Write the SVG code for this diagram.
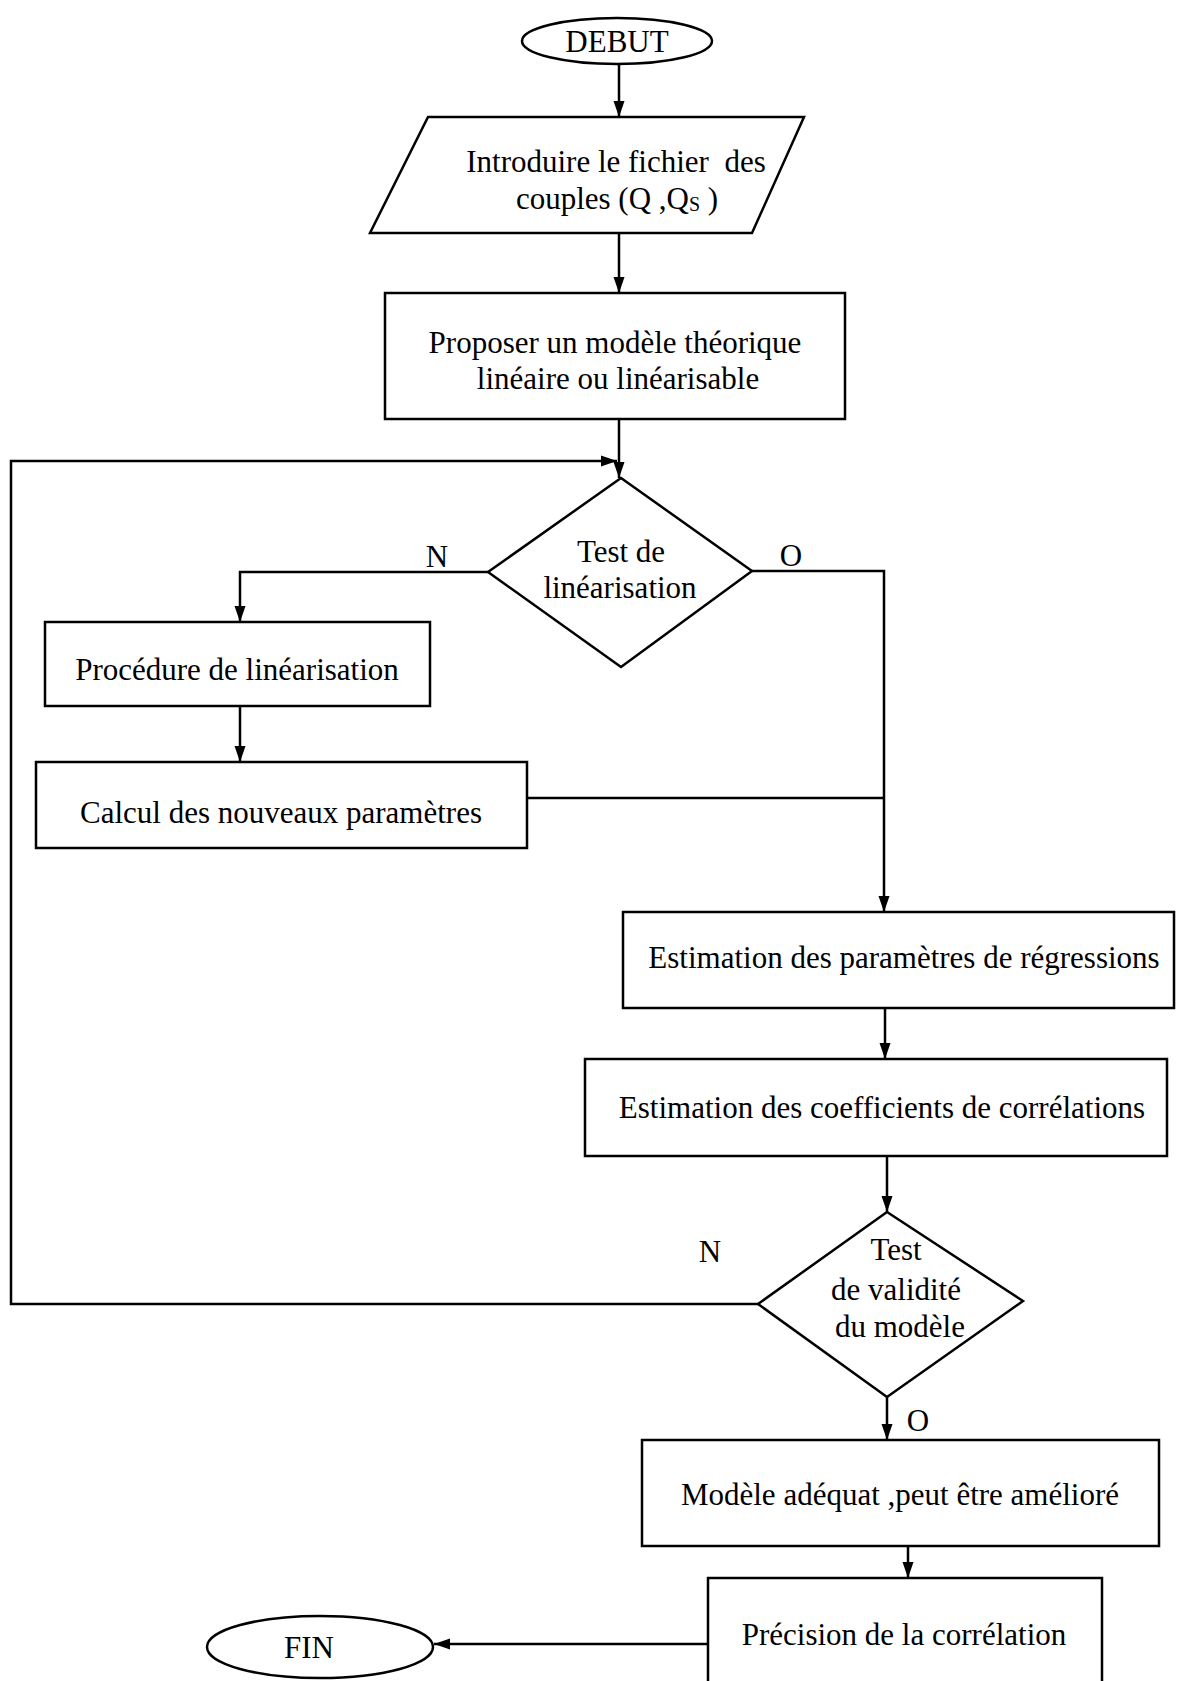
<svg xmlns="http://www.w3.org/2000/svg" width="1177" height="1681" viewBox="0 0 1177 1681">
  <style>
    .shape { fill: #ffffff; stroke: #000000; stroke-width: 2.5; }
    .edge { fill: none; stroke: #000000; stroke-width: 2.5; }
    .lbl { font-family: "Liberation Serif", "Times New Roman", serif; font-size: 31px; fill: #000000; text-anchor: middle; white-space: pre; }
  </style>
  <defs>
    <marker id="arrow" markerUnits="userSpaceOnUse" markerWidth="17" markerHeight="12" refX="16" refY="6" orient="auto">
      <path d="M0,0.5 L16,6 L0,11.5 z" fill="#000000"/>
    </marker>
  </defs>
  <rect width="1177" height="1681" fill="#ffffff"/>

  <!-- flow connectors -->
  <g id="connectors">
    <path class="edge" d="M619,64 V117" marker-end="url(#arrow)"/>
    <path class="edge" d="M619,233 V293" marker-end="url(#arrow)"/>
    <path class="edge" d="M619,419 V478" marker-end="url(#arrow)"/>
    <!-- N branch of the linearisation test -->
    <path class="edge" d="M488,572 H240 V622" marker-end="url(#arrow)"/>
    <path class="edge" d="M240,706 V762" marker-end="url(#arrow)"/>
    <!-- O branch of the linearisation test -->
    <path class="edge" d="M752,571 H884 V912" marker-end="url(#arrow)"/>
    <path class="edge" d="M527,798 H884"/>
    <path class="edge" d="M885,1008 V1059" marker-end="url(#arrow)"/>
    <path class="edge" d="M887,1156 V1212" marker-end="url(#arrow)"/>
    <!-- N branch of the validity test loops back -->
    <path class="edge" d="M758,1304 H11 V461 H617" marker-end="url(#arrow)"/>
    <path class="edge" d="M887,1397 V1440" marker-end="url(#arrow)"/>
    <path class="edge" d="M908,1546 V1578" marker-end="url(#arrow)"/>
    <path class="edge" d="M720,1644 H434" marker-end="url(#arrow)"/>
  </g>

  <g id="debut">
    <ellipse class="shape" cx="617" cy="41" rx="95" ry="23"/>
    <text class="lbl" x="617" y="52">DEBUT</text>
  </g>

  <g id="introduire">
    <polygon class="shape" points="428,117 804,117 752,233 370,233"/>
    <text class="lbl" x="616" y="172" xml:space="preserve">Introduire le fichier  des</text>
    <text class="lbl" x="617" y="209">couples (Q ,Q<tspan font-size="20" dy="2">S</tspan><tspan dy="-2"> )</tspan></text>
  </g>

  <g id="proposer">
    <rect class="shape" x="385" y="293" width="460" height="126"/>
    <text class="lbl" x="615" y="353">Proposer un modèle théorique</text>
    <text class="lbl" x="618" y="389">linéaire ou linéarisable</text>
  </g>

  <g id="test-linearisation">
    <polygon class="shape" points="621,478 752,571 621,667 488,572"/>
    <text class="lbl" x="621" y="562">Test de</text>
    <text class="lbl" x="620" y="598">linéarisation</text>
    <text class="lbl" x="437" y="567">N</text>
    <text class="lbl" x="791" y="566">O</text>
  </g>

  <g id="procedure">
    <rect class="shape" x="45" y="622" width="385" height="84"/>
    <text class="lbl" x="237" y="680">Procédure de linéarisation</text>
  </g>

  <g id="calcul">
    <rect class="shape" x="36" y="762" width="491" height="86"/>
    <text class="lbl" x="281" y="823">Calcul des nouveaux paramètres</text>
  </g>

  <g id="estimation-parametres">
    <rect class="shape" x="623" y="912" width="551" height="96"/>
    <text class="lbl" x="904" y="968">Estimation des paramètres de régressions</text>
  </g>

  <g id="estimation-coefficients">
    <rect class="shape" x="585" y="1059" width="582" height="97"/>
    <text class="lbl" x="882" y="1118">Estimation des coefficients de corrélations</text>
  </g>

  <g id="test-validite">
    <polygon class="shape" points="887,1212 1023,1301 887,1397 758,1304"/>
    <text class="lbl" x="896" y="1260">Test</text>
    <text class="lbl" x="896" y="1300">de validité</text>
    <text class="lbl" x="900" y="1337">du modèle</text>
    <text class="lbl" x="710" y="1262">N</text>
    <text class="lbl" x="918" y="1431">O</text>
  </g>

  <g id="modele-adequat">
    <rect class="shape" x="642" y="1440" width="517" height="106"/>
    <text class="lbl" x="900" y="1505">Modèle adéquat ,peut être amélioré</text>
  </g>

  <g id="precision">
    <rect class="shape" x="708" y="1578" width="394" height="130"/>
    <text class="lbl" x="904" y="1645">Précision de la corrélation</text>
  </g>

  <g id="fin">
    <ellipse class="shape" cx="320" cy="1647" rx="113" ry="31"/>
    <text class="lbl" x="309" y="1658" font-size="33">FIN</text>
  </g>
</svg>
